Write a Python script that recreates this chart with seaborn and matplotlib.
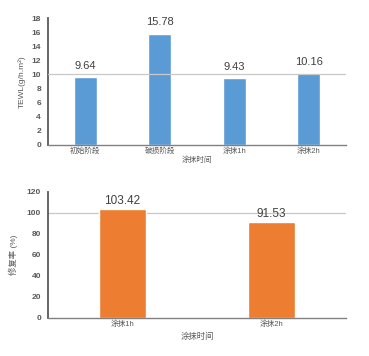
import matplotlib
matplotlib.use("Agg")
import matplotlib.pyplot as plt
import seaborn as sns
import pandas as pd

# top chart: TEWL per stage
stages = ['初始阶段', '破损阶段', '涂抹1h', '涂抹2h']
tewl = [9.64, 15.78, 9.43, 10.16]
tewl_ref = 10

# bottom chart: repair rate
repair_times = ['涂抹1h', '涂抹2h']
repair_rate = [103.42, 91.53]
repair_ref = 100

sns.set_theme(style='white')
plt.rcParams['font.family'] = ['Liberation Sans', 'Noto Sans CJK SC', 'DejaVu Sans']

text_color = '#595959'
blue = '#5B9BD5'
orange = '#ED7D31'

fig = plt.figure(figsize=(3.69, 3.56), dpi=100)
ax1 = fig.add_axes([0.130, 0.593, 0.808, 0.356])
ax2 = fig.add_axes([0.130, 0.107, 0.808, 0.354])

df1 = pd.DataFrame({'stage': stages, 'tewl': tewl})
sns.barplot(data=df1, x='stage', y='tewl', color=blue, saturation=1, width=0.31, ax=ax1)
ax1.set_ylim(0, 18)
ax1.set_yticks(range(0, 19, 2))
ax1.axhline(tewl_ref, color='#c8c8c8', lw=0.9, zorder=3)
for i, v in enumerate(tewl):
    ax1.text(i, v + 0.9, f'{v:.2f}', ha='center', va='bottom', fontsize=8,
             color='#404040')
ax1.set_xlabel('涂抹时间', fontsize=5.5, color=text_color, labelpad=1)
ax1.set_ylabel('TEWL(g/h.m²)', fontsize=6, color=text_color, labelpad=4)

df2 = pd.DataFrame({'time': repair_times, 'rate': repair_rate})
sns.barplot(data=df2, x='time', y='rate', color=orange, saturation=1, width=0.31, ax=ax2)
ax2.set_ylim(0, 120)
ax2.set_yticks(range(0, 121, 20))
ax2.axhline(repair_ref, color='#c8c8c8', lw=0.9, zorder=0)
for i, v in enumerate(repair_rate):
    ax2.text(i, v + 2, f'{v:.2f}', ha='center', va='bottom', fontsize=8.5,
             color='#404040')
ax2.set_xlabel('涂抹时间', fontsize=6, color=text_color, labelpad=3)
ax2.set_ylabel('修复率 (%)', fontsize=6, color=text_color, labelpad=6)

for ax in (ax1, ax2):
    ax.set_xlim(-0.5, len(ax.patches) - 0.5)
    sns.despine(ax=ax)
    ax.spines['left'].set_color('#595959')
    ax.spines['bottom'].set_color('#808080')
    ax.spines['left'].set_linewidth(1.3)
    ax.spines['bottom'].set_linewidth(1.0)
    ax.tick_params(axis='both', labelsize=5.5, colors=text_color, length=0, pad=2)
    ax.tick_params(axis='y', labelsize=6, pad=5)
    for lbl in ax.get_yticklabels():
        lbl.set_fontweight('bold')

fig.savefig('out.png', dpi=100)
